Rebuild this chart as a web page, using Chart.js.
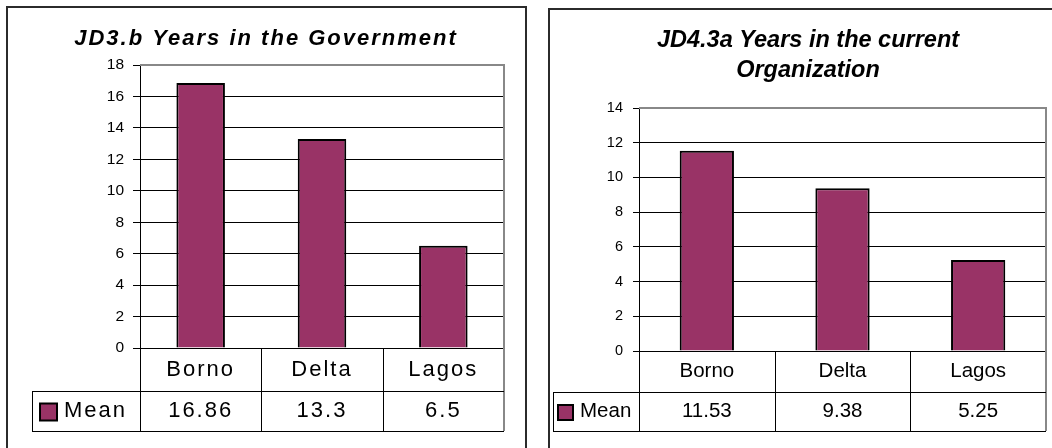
<!DOCTYPE html>
<html>
<head>
<meta charset="utf-8">
<script src="https://cdn.jsdelivr.net/npm/chart.js@4"></script>
<style>
  body { margin: 0; background: #fff; width: 1052px; height: 448px; overflow: hidden; position: relative; }
  .frame { position: absolute; border: 2px solid #2b2b2b; box-sizing: border-box; }
  canvas { position: absolute; top: 0; }
</style>
</head>
<body>
<div class="frame" style="left:6px; top:6px; width:521px; height:470px;"></div>
<div class="frame" style="left:548px; top:8px; width:520px; height:470px;"></div>
<canvas id="govChart" width="530" height="448" style="left:0"></canvas>
<canvas id="orgChart" width="522" height="448" style="left:530px"></canvas>
<script>
const categories = ['Borno', 'Delta', 'Lagos'];
const seriesName = 'Mean';
const govYears = [16.86, 13.3, 6.5];
const orgYears = [11.53, 9.38, 5.25];
const govTickMax = 18;
const orgTickMax = 14;
const tickStep = 2;

const family = '"Liberation Sans", Arial, sans-serif';
const plum = '#993366';

// draws the title and the data table under the plot
const sheetPlugin = {
  id: 'sheet',
  afterDraw(chart, args, o) {
    const ctx = chart.ctx;
    const a = chart.chartArea;
    const xs = chart.scales.x;
    const labels = chart.data.labels;
    const values = chart.data.datasets[0].data;
    const w = (a.right - a.left) / labels.length;
    const r1 = a.bottom + o.row1;
    const r2 = r1 + o.row2;

    ctx.save();
    ctx.fillStyle = '#000';
    ctx.textAlign = 'center';
    ctx.textBaseline = 'alphabetic';
    ctx.font = `italic bold ${o.titleSize}px ${family}`;
    ctx.letterSpacing = o.titleSpacing + 'px';
    o.title.forEach((line, i) => ctx.fillText(line, o.titleX, o.titleY + i * o.titleLead));

    // plot frame top / right
    ctx.strokeStyle = '#888';
    ctx.lineWidth = 2;
    ctx.beginPath();
    ctx.moveTo(a.left, a.top);
    ctx.lineTo(a.right, a.top);
    ctx.lineTo(a.right, r2);
    ctx.stroke();

    // table lines
    ctx.strokeStyle = '#000';
    ctx.lineWidth = 1;
    ctx.beginPath();
    for (let i = 0; i < labels.length; i++) {
      const bx = Math.round(a.left + i * w) + 0.5;
      ctx.moveTo(bx, a.bottom);
      ctx.lineTo(bx, r2);
    }
    ctx.moveTo(o.tableLeft + 0.5, r1);
    ctx.lineTo(o.tableLeft + 0.5, r2);
    ctx.moveTo(o.tableLeft, Math.round(r1) + 0.5);
    ctx.lineTo(a.right, Math.round(r1) + 0.5);
    ctx.moveTo(o.tableLeft, Math.round(r2) + 0.5);
    ctx.lineTo(a.right, Math.round(r2) + 0.5);
    ctx.stroke();

    // table text
    ctx.font = `${o.cellSize}px ${family}`;
    ctx.letterSpacing = o.cellSpacing + 'px';
    ctx.textBaseline = 'middle';
    labels.forEach((lab, i) => {
      const cx = xs.getPixelForValue(i);
      ctx.fillText(lab, cx, (a.bottom + r1) / 2);
      ctx.fillText(String(values[i]), cx, (r1 + r2) / 2);
    });

    // legend key
    const k = o.keySize;
    const ky = (r1 + r2) / 2 - k / 2 + 1;
    ctx.fillStyle = plum;
    ctx.fillRect(o.keyX, ky, k, k);
    ctx.lineWidth = 2;
    ctx.strokeRect(o.keyX, ky, k, k);
    ctx.fillStyle = '#000';
    ctx.textAlign = 'left';
    ctx.fillText(chart.data.datasets[0].label, o.keyX + k + 7, (r1 + r2) / 2);
    ctx.restore();
  }
};

function makeChart(id, values, max, cfg) {
  return new Chart(document.getElementById(id), {
    type: 'bar',
    data: {
      labels: categories,
      datasets: [{
        label: seriesName,
        data: values,
        backgroundColor: plum,
        borderColor: '#000',
        borderWidth: 2,
        barPercentage: 0.4,
        categoryPercentage: 1
      }]
    },
    options: {
      responsive: false,
      animation: false,
      devicePixelRatio: 1,
      layout: { padding: cfg.padding },
      scales: {
        x: { display: false },
        y: {
          min: 0,
          max: max,
          ticks: {
            stepSize: tickStep,
            color: '#000',
            padding: cfg.tickPad,
            font: { family: family, size: cfg.tickSize }
          },
          grid: { color: '#000', lineWidth: 1, tickLength: cfg.tickLen },
          border: { color: '#000', width: 1 },
          afterFit: (s) => { s.width = cfg.axisWidth; }
        }
      },
      plugins: {
        legend: { display: false },
        tooltip: { enabled: false },
        sheet: cfg.sheet
      }
    },
    plugins: [sheetPlugin]
  });
}

makeChart('govChart', govYears, govTickMax, {
  padding: { left: 0, top: 65, right: 26, bottom: 100 },
  axisWidth: 140, tickLen: 7, tickPad: 9, tickSize: 15.5,
  sheet: {
    title: ['JD3.b Years in the Government'],
    titleX: 266, titleY: 45, titleLead: 0, titleSize: 22, titleSpacing: 2,
    row1: 43, row2: 40, tableLeft: 32,
    cellSize: 22, cellSpacing: 2, keyX: 40, keySize: 17
  }
});

makeChart('orgChart', orgYears, orgTickMax, {
  padding: { left: 0, top: 108, right: 6, bottom: 97 },
  axisWidth: 109, tickLen: 6, tickPad: 10, tickSize: 14.5,
  sheet: {
    title: ['JD4.3a Years in the current', 'Organization'],
    titleX: 278, titleY: 47, titleLead: 30, titleSize: 23.5, titleSpacing: 0,
    row1: 41, row2: 39, tableLeft: 23,
    cellSize: 20.5, cellSpacing: 0, keyX: 28, keySize: 15
  }
});
</script>
</body>
</html>
